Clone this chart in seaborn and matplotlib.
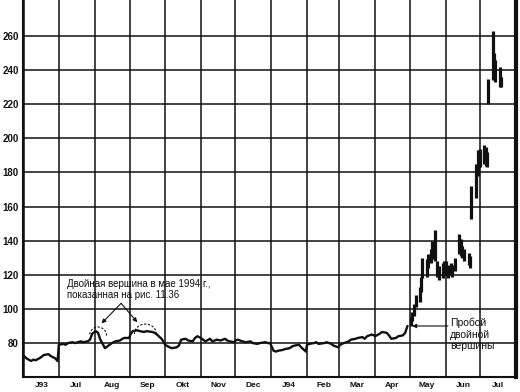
import numpy as np
import pandas as pd
import matplotlib
matplotlib.use("Agg")
import matplotlib.pyplot as plt
import matplotlib.dates as mdates
from matplotlib.patches import Arc
import seaborn as sns

# ---- data: closes, Jun 1993 - Apr 1994 ----
jun93 = [72.4, 71.0, 69.5, 70.3, 69.9, 71.4, 73.0, 73.5, 72.4, 71.0, 69.4]
jul93 = [79.0, 79.5, 79.0, 80.0, 80.5, 80.0, 81.0, 80.5, 81.0, 82.0, 85.5]
aug93 = [87.0, 86.0, 82.0, 77.0, 78.0, 80.0, 81.0, 81.5, 82.5, 83.0, 83.0]
sep93 = [85.0, 87.0, 87.5, 87.0, 86.5, 87.0, 86.5, 86.0, 85.0, 82.5, 80.5]
oct93 = [79.0, 77.5, 77.0, 77.5, 78.5, 82.0, 82.5, 81.5, 81.0, 83.0, 84.0]
nov93 = [83.0, 82.0, 81.0, 82.5, 81.0, 82.0, 81.5, 82.5, 81.5, 81.0, 80.5]
dec93 = [81.5, 82.0, 81.0, 80.5, 81.0, 80.0, 79.5, 80.0, 80.5, 80.0, 80.0]
jan94 = [75.5, 75.0, 75.5, 76.0, 76.5, 77.0, 78.0, 78.5, 79.0, 77.5, 75.0]
feb94 = [79.0, 79.5, 80.0, 80.5, 79.5, 80.0, 80.5, 79.5, 78.5, 77.5]
mar94 = [78.5, 79.5, 80.5, 81.0, 82.0, 82.5, 83.0, 83.5, 82.5, 84.0, 85.0, 84.5]
apr94 = [84.0, 85.5, 86.5, 86.0, 84.5, 82.5, 83.0, 84.0, 84.5, 86.0, 90.0]

# ---- data: daily high/low bars, May - Jul 1994 ----
may94_hi = [95, 98, 103, 108, 113, 119, 130, 129, 132, 135, 140, 146, 128, 125, 127, 128]
may94_lo = [90, 93, 96, 101, 104, 110, 118, 119, 124, 127, 129, 128, 119, 117, 118, 121]
jun94_hi = [128, 126, 127, 126, 130, 144, 141, 137, 135, 133, 131, 172, 185, 193, 193]
jun94_lo = [120, 118, 120, 119, 122, 132, 131, 130, 128, 126, 124, 153, 165, 178, 183]
jul94_hi = [194, 196, 195, 192, 235, 263, 250, 246, 242, 236]
jul94_lo = [183, 185, 184, 183, 220, 234, 236, 233, 230, 230]

month_labels = ["J93", "Jul", "Aug", "Sep", "Okt", "Nov", "Dec",
                "J94", "Feb", "Mar", "Apr", "May", "Jun", "Jul"]
y_ticks = [80, 100, 120, 140, 160, 180, 200, 220, 240, 260]


def month_dates(month, n, last=None):
    start = pd.Timestamp(month + "-01")
    end = pd.Timestamp(last) if last else start + pd.offsets.MonthEnd(0)
    bd = pd.bdate_range(start, end)
    idx = np.linspace(0, len(bd) - 1, n).round().astype(int)
    return bd[idx]


close_parts = [("1993-06", jun93), ("1993-07", jul93), ("1993-08", aug93),
               ("1993-09", sep93), ("1993-10", oct93), ("1993-11", nov93),
               ("1993-12", dec93), ("1994-01", jan94), ("1994-02", feb94),
               ("1994-03", mar94), ("1994-04", apr94)]
df_close = pd.concat([pd.DataFrame({"date": month_dates(m, len(v)), "close": v})
                      for m, v in close_parts], ignore_index=True)

bar_parts = [("1994-05", may94_hi, may94_lo, None),
             ("1994-06", jun94_hi, jun94_lo, None),
             ("1994-07", jul94_hi, jul94_lo, "1994-07-19")]
df_bar = pd.concat([pd.DataFrame({"date": month_dates(m, len(h), last), "hi": h, "lo": l})
                    for m, h, l, last in bar_parts], ignore_index=True)

# ---- style ----
sns.set_style("white")
plt.rcParams["font.family"] = ["Liberation Sans", "DejaVu Sans"]
INK = "#111111"

fig = plt.figure(figsize=(5.2, 3.92), dpi=100)
ax = fig.add_axes([23 / 520, 15.5 / 392, 493 / 520, 376.5 / 392])

sns.lineplot(data=df_close, x="date", y="close", color=INK, lw=1.7,
             estimator=None, sort=False, ax=ax)
ax.vlines(df_bar["date"], df_bar["lo"], df_bar["hi"], color=INK, lw=2.3)

ax.set_xlim(pd.Timestamp("1993-05-31"), pd.Timestamp("1994-08-01"))
ax.set_ylim(60.4, 281.1)
ax.set_xlabel("")
ax.set_ylabel("")

ax.xaxis.set_major_locator(mdates.MonthLocator())
ax.xaxis.set_major_formatter(plt.NullFormatter())
ax.xaxis.set_minor_locator(mdates.WeekdayLocator(byweekday=mdates.MO))
ax.tick_params(axis="x", which="major", direction="inout", length=7, width=1.2, color=INK)
ax.tick_params(axis="x", which="minor", direction="inout", length=4, width=0.8, color=INK)
ax.set_yticks(y_ticks)
ax.set_yticklabels([str(v) for v in y_ticks], fontsize=7, fontweight="bold", color=INK)
ax.tick_params(axis="y", length=0, pad=3)
ax.grid(True, which="major", color=INK, lw=1.1)

for s in ["left", "bottom"]:
    ax.spines[s].set_color(INK)
    ax.spines[s].set_linewidth(1.5)
ax.spines["right"].set_color(INK)
ax.spines["right"].set_linewidth(3)
ax.spines["top"].set_visible(False)

month_starts = pd.date_range("1993-06-01", "1994-07-01", freq="MS")
for ms, lab in zip(month_starts, month_labels):
    ax.text(ms + pd.Timedelta(days=15), -0.023, lab, transform=ax.get_xaxis_transform(),
            ha="center", va="center", fontsize=6, fontweight="bold", color=INK)

# ---- annotations ----
ax.text(pd.Timestamp("1993-07-08"), 112.6, "Двойная вершина в мае 1994 г.,",
        fontsize=7, va="baseline", color=INK)
ax.text(pd.Timestamp("1993-07-08"), 106.2, "показанная на рис. 11.36",
        fontsize=7, va="baseline", color=INK)
arrow = dict(arrowstyle="-|>", color=INK, lw=0.8, mutation_scale=6, shrinkA=0, shrinkB=0)
ax.annotate("", xy=(pd.Timestamp("1993-08-07"), 91.5),
            xytext=(pd.Timestamp("1993-08-24"), 103.3), arrowprops=arrow)
ax.annotate("", xy=(pd.Timestamp("1993-09-07"), 92.2),
            xytext=(pd.Timestamp("1993-08-24"), 103.3), arrowprops=arrow)
ax.add_patch(Arc((mdates.date2num(pd.Timestamp("1993-08-04")), 84.4), 14.7, 10.0,
                 theta1=0, theta2=180, color=INK, lw=0.8, ls=(0, (2, 1.5))))
ax.add_patch(Arc((mdates.date2num(pd.Timestamp("1993-09-14")), 85.3), 19.0, 11.7,
                 theta1=0, theta2=180, color=INK, lw=0.8, ls=(0, (2, 1.5))))

ax.text(pd.Timestamp("1994-06-05"), 94.7, "Пробой\nдвойной\nвершины",
        fontsize=7.5, va="top", ha="left", linespacing=1.15, color=INK)
ax.annotate("", xy=(pd.Timestamp("1994-05-03"), 90.0),
            xytext=(pd.Timestamp("1994-06-03"), 90.0), arrowprops=arrow)

fig.savefig("out.png", dpi=100)
